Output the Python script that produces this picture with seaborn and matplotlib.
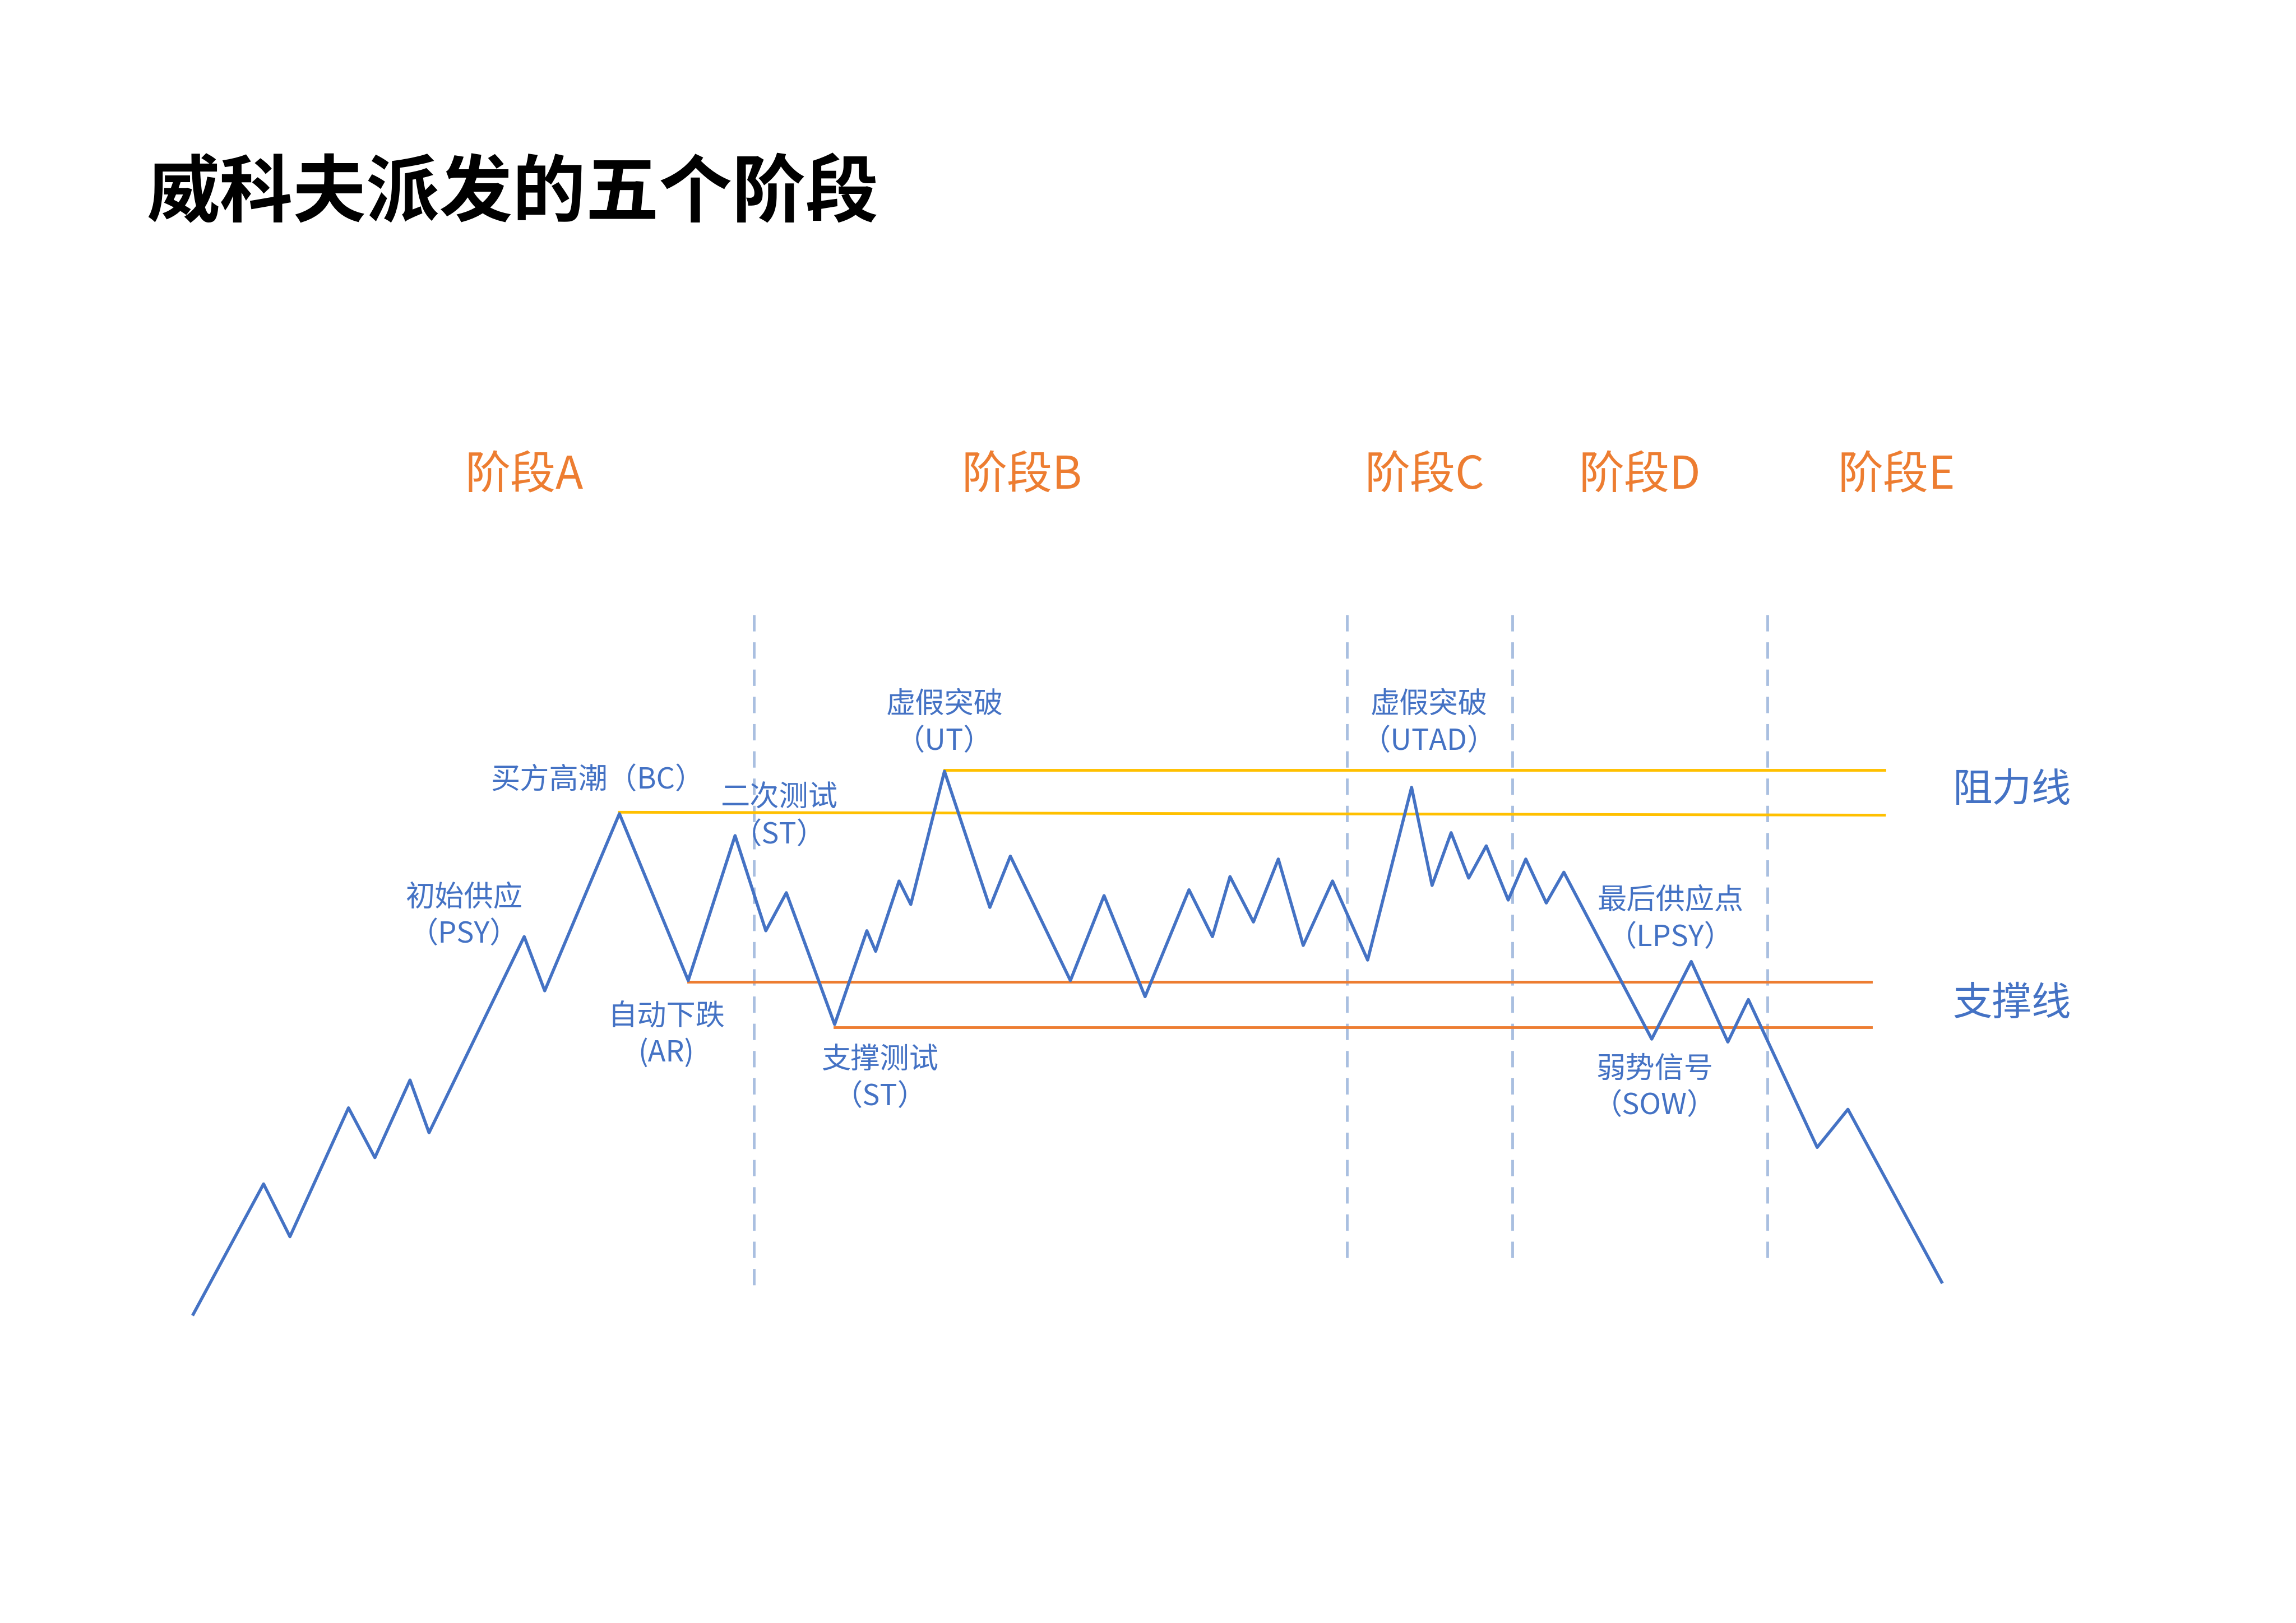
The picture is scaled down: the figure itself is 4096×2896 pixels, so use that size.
import matplotlib
matplotlib.use("Agg")
import matplotlib.pyplot as plt
import seaborn as sns
import pandas as pd

# Price path (in reference-image pixel coordinates, y downward)
path_x = [132,180,198,238,256,280,293,358,372,423,470,502,523,537,570,592,598,614,622,645,676,690,731,754,782,812,828,840,856,873,890,910,934,964,978,991,1003,1015,1030,1042,1056,1068,1128,1155,1180,1194,1241,1262,1326]
path_y = [898,809,845,757,791,738,774,640,677,556,670,571,636,610,700,636,650,602,618,527,620,585,670,612,681,608,640,599,630,587,646,602,656,538,605,569,600,578,615,587,617,596,710,657,712,683,784,758,876]

resist_x0 = [645, 423]; resist_x1 = [1287, 1287]; resist_y0 = [526, 555]; resist_y1 = [526, 557]
support_x0 = [470, 570]; support_x1 = [1278, 1278]; support_y = [671, 702]
phase_x = [515, 920, 1033, 1207]; phase_bottom = [882, 860, 860, 860]

stage_labels = ["阶段A", "阶段B", "阶段C", "阶段D", "阶段E"]
stage_x = [358, 698, 973, 1120, 1295]

notes = [("初始供应\n（PSY）", 317, 626), ("买方高潮（BC）", 408, 533), ("二次测试\n（ST）", 532, 558),
         ("自动下跌\n(AR)", 455, 707), ("支撑测试\n（ST）", 601, 737), ("虚假突破\n（UT）", 645, 494),
         ("虚假突破\n（UTAD）", 976, 494), ("最后供应点\n（LPSY）", 1141, 628), ("弱势信号\n（SOW）", 1130, 743)]

F = 2.612 * 0.72
font = "Noto Sans CJK SC"
blue, orange, yellow = "#4472c4", "#ed7d31", "#ffc000"

fig = plt.figure(figsize=(40.96, 28.96), dpi=100)
ax = fig.add_axes([0, 0, 1, 1])
ax.set_xlim(0, 1568); ax.set_ylim(1109, 0); ax.axis("off")

for x, b in zip(phase_x, phase_bottom):
    ax.plot([x, x], [420, b], ls=(0, (6, 4)), color="#a9bfe0", lw=3.5)
for a, b, c, d in zip(resist_x0, resist_x1, resist_y0, resist_y1):
    ax.plot([a, b], [c, d], color=yellow, lw=3.5)
for a, b, c in zip(support_x0, support_x1, support_y):
    ax.plot([a, b], [c, c], color=orange, lw=3.5)

df = pd.DataFrame({"x": path_x, "y": path_y})
sns.lineplot(data=df, x="x", y="y", sort=False, ax=ax, color=blue, lw=4)
ax.set_xlim(0, 1568); ax.set_ylim(1109, 0); ax.axis("off")

ax.text(100, 133, "威科夫派发的五个阶段", fontsize=50 * F, fontweight="bold", family=font, va="center", ha="left")
for s, x in zip(stage_labels, stage_x):
    ax.text(x, 325, s, fontsize=31 * F, color=orange, family=font, ha="center", va="center")
for t, x, y in notes:
    ax.text(x, y, t, fontsize=20 * F, color=blue, family=font, ha="center", va="center", linespacing=1.3)
ax.text(1374, 540, "阻力线", fontsize=27 * F, color=blue, family=font, ha="center", va="center")
ax.text(1374, 686, "支撑线", fontsize=27 * F, color=blue, family=font, ha="center", va="center")

fig.savefig("out.png", dpi=100, facecolor="white")
